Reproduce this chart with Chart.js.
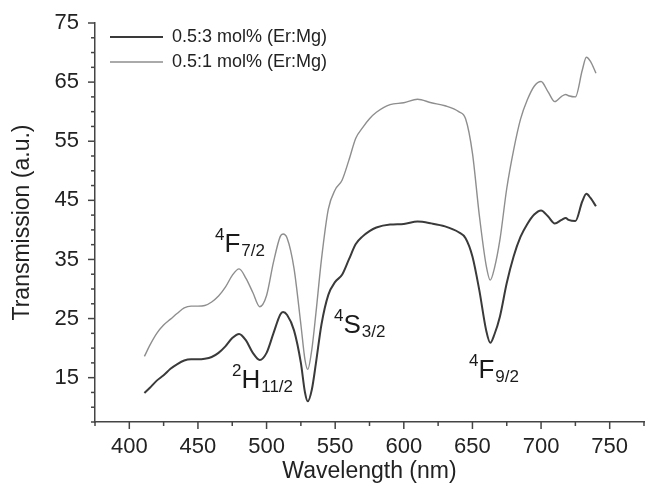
<!DOCTYPE html>
<html>
<head>
<meta charset="utf-8">
<script src="https://cdn.jsdelivr.net/npm/chart.js@4.4.1/dist/chart.umd.min.js"></script>
<style>
  html, body { margin: 0; padding: 0; background: #fff; }
</style>
</head>
<body>
<canvas id="myChart" width="652" height="495"></canvas>
<script>
const wavelengths = [411, 415, 420, 425, 430, 435, 440, 445, 450, 455, 460, 465, 470, 475, 480, 485, 490, 495,
  500, 505, 510, 512, 515, 520, 525, 528, 530, 533, 536, 540, 545, 550, 555, 560, 565, 570, 575, 580,
  590, 600, 610, 620, 630, 640, 645, 650, 655, 660, 663, 666, 670, 675, 680, 685, 690, 695, 700, 705,
  710, 715, 718, 720, 725, 730, 733, 736, 740];

// 0.5:3 mol% (Er:Mg)
const er3 = [12.4, 13.3, 14.5, 15.4, 16.5, 17.3, 17.9, 18.1, 18.1, 18.2, 18.5, 19.2, 20.3, 21.7, 22.4, 21.3, 19.2, 18.0,
  19.2, 22.5, 25.7, 26.1, 25.6, 23.0, 17.5, 12.5, 11.0, 13.0, 17.5, 24.0, 29.0, 31.2, 32.4, 35.0, 37.6, 38.9, 39.8, 40.4,
  40.9, 41.0, 41.4, 41.1, 40.6, 39.6, 38.6, 35.5, 29.8, 23.0, 20.9, 22.3, 25.3, 31.0, 35.5, 38.8, 41.0, 42.6, 43.3, 42.3,
  41.1, 41.7, 42.0, 41.7, 41.5, 44.8, 46.1, 45.4, 44.0];

// 0.5:1 mol% (Er:Mg)
const er1 = [18.6, 20.5, 22.5, 23.9, 24.9, 25.9, 26.8, 27.1, 27.1, 27.2, 27.8, 28.8, 30.3, 32.3, 33.4, 31.8, 29.4, 27.0,
  28.9, 34.5, 38.9, 39.3, 38.6, 33.5, 24.0, 18.0, 16.4, 19.8, 26.0, 35.0, 43.5, 46.8, 48.4, 51.8, 55.5, 57.3, 58.8, 59.9,
  61.2, 61.5, 62.1, 61.5, 61.0, 60.0, 58.8, 53.0, 42.5, 34.0, 31.5, 33.5, 38.3, 47.0, 53.5, 58.7, 62.0, 64.3, 65.1, 63.4,
  61.7, 62.6, 62.9, 62.7, 62.5, 67.0, 69.2, 68.5, 66.5];

const seriesNames = ['0.5:3 mol% (Er:Mg)', '0.5:1 mol% (Er:Mg)'];
const xTickLabels = [400, 450, 500, 550, 600, 650, 700, 750];
const yTickLabels = [15, 25, 35, 45, 55, 65, 75];

// energy level labels: superscript, letter, subscript, anchored at data coords
const levelSup = ['4', '2', '4', '4'];
const levelMain = ['F', 'H', 'S', 'F'];
const levelSub = ['7/2', '11/2', '3/2', '9/2'];
const levelX = [462.4, 474.8, 549.1, 647.5];
const levelY = [36.2, 13.3, 22.6, 14.9];

const FONT = "'Liberation Sans', Arial, Helvetica, sans-serif";
Chart.defaults.font.family = FONT;
Chart.defaults.color = '#222';

const tickMarks = {
  id: 'tickMarks',
  afterDraw(chart) {
    const { ctx, scales: { x, y } } = chart;
    ctx.save();
    ctx.strokeStyle = '#444';
    ctx.lineWidth = 1.5;
    x.ticks.forEach(t => {
      const px = x.getPixelForValue(t.value);
      const len = xTickLabels.includes(t.value) ? 7 : 4;
      ctx.beginPath();
      ctx.moveTo(px, x.top);
      ctx.lineTo(px, x.top + len);
      ctx.stroke();
    });
    y.ticks.forEach(t => {
      const py = y.getPixelForValue(t.value);
      const len = yTickLabels.includes(t.value) ? 7 : 4;
      ctx.beginPath();
      ctx.moveTo(y.right, py);
      ctx.lineTo(y.right - len, py);
      ctx.stroke();
    });
    ctx.restore();
  }
};

const levelLabels = {
  id: 'levelLabels',
  afterDatasetsDraw(chart) {
    const { ctx, scales: { x, y } } = chart;
    ctx.save();
    ctx.fillStyle = '#1a1a1a';
    ctx.textBaseline = 'alphabetic';
    ctx.textAlign = 'left';
    levelMain.forEach((m, i) => {
      let px = x.getPixelForValue(levelX[i]);
      const py = y.getPixelForValue(levelY[i]);
      ctx.font = '17px ' + FONT;
      ctx.fillText(levelSup[i], px, py - 12);
      px += ctx.measureText(levelSup[i]).width;
      ctx.font = '26px ' + FONT;
      ctx.fillText(m, px, py);
      px += ctx.measureText(m).width + 1;
      ctx.font = '17px ' + FONT;
      ctx.fillText(levelSub[i], px, py + 4);
    });
    ctx.restore();
  }
};

// put the legend inside the plot, top left
const legendShift = {
  id: 'legendShift',
  afterLayout(chart) {
    chart.legend.left = chart.chartArea.left + 8;
    chart.legend.top = chart.chartArea.top - 2;
  }
};

const data = {
  datasets: [{
    label: seriesNames[0],
    data: wavelengths.map((w, i) => ({ x: w, y: er3[i] })),
    borderColor: '#3a3a3a',
    backgroundColor: '#3a3a3a',
    borderWidth: 2,
    pointRadius: 0,
    cubicInterpolationMode: 'monotone'
  }, {
    label: seriesNames[1],
    data: wavelengths.map((w, i) => ({ x: w, y: er1[i] })),
    borderColor: '#8e8e8e',
    backgroundColor: '#8e8e8e',
    borderWidth: 1.4,
    pointRadius: 0,
    cubicInterpolationMode: 'monotone'
  }]
};

const config = {
  type: 'line',
  data: data,
  options: {
    responsive: false,
    animation: false,
    layout: { padding: { top: 23, right: 8, left: 0, bottom: 0 } },
    scales: {
      x: {
        type: 'linear',
        min: 375,
        max: 775,
        grid: { display: false },
        border: { display: true, color: '#444', width: 1.5 },
        ticks: {
          stepSize: 25,
          autoSkip: false,
          maxRotation: 0,
          padding: 4,
          font: { size: 22 },
          color: '#222',
          callback: v => xTickLabels.includes(v) ? String(v) : ''
        },
        title: {
          display: true,
          text: 'Wavelength (nm)',
          font: { size: 23 },
          color: '#222',
          padding: { top: 0, bottom: 10 }
        },
        afterFit: s => { s.height = 73; }
      },
      y: {
        min: 7.5,
        max: 75,
        grid: { display: false },
        border: { display: true, color: '#444', width: 1.5 },
        ticks: {
          stepSize: 2.5,
          autoSkip: false,
          padding: 8,
          font: { size: 22 },
          color: '#222',
          callback: v => yTickLabels.includes(v) ? String(v) : ''
        },
        title: {
          display: true,
          text: 'Transmission (a.u.)',
          font: { size: 23 },
          color: '#222',
          padding: { top: 9, bottom: 0 }
        },
        afterFit: s => { s.width = 95; }
      }
    },
    plugins: {
      legend: {
        position: 'chartArea',
        align: 'start',
        labels: {
          usePointStyle: true,
          pointStyle: 'line',
          pointStyleWidth: 53,
          padding: 7,
          font: { size: 18 },
          color: '#222'
        }
      },
      tooltip: { enabled: false }
    }
  },
  plugins: [tickMarks, levelLabels, legendShift]
};

const myChart = new Chart(document.getElementById('myChart'), config);
</script>
</body>
</html>
